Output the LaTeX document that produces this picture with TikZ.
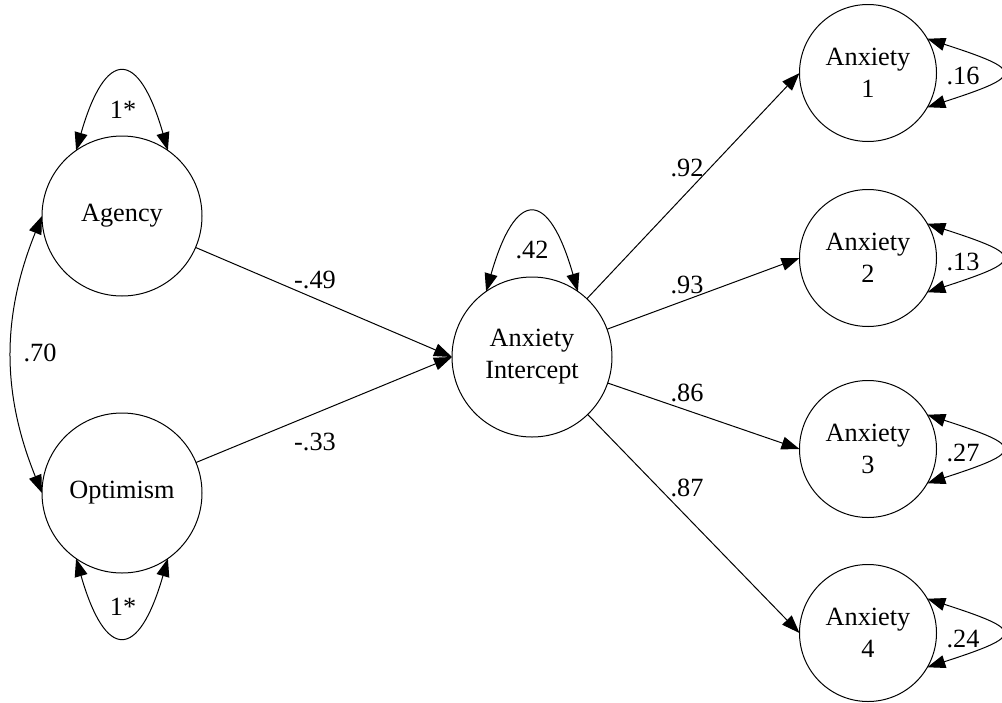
\documentclass[tikz,border=0pt]{standalone}
\usepackage{fontspec}
\setmainfont{Liberation Serif}
\usetikzlibrary{arrows.meta}
\begin{document}
\begin{tikzpicture}[x=1pt,y=1pt,
  latent/.style={circle,draw,line width=1pt,inner sep=0pt,outer sep=0pt,align=center,font=\fontsize{26.3}{32}\selectfont},
  big/.style={latent,minimum size=160pt},
  small/.style={latent,minimum size=137pt},
  lbl/.style={inner sep=0pt,font=\fontsize{26.3}{32}\selectfont},
  reg/.style={line width=1pt,-{Triangle[length=18pt,width=13pt]}},
  cov/.style={line width=1pt,{Triangle[length=18pt,width=13pt]}-{Triangle[length=18pt,width=13pt]}}
]
\fill[white] (0,0) rectangle (1002,-702);
\useasboundingbox (0,0) rectangle (1002,-702);

\node[big] (ag) at (122,-216) {Agency};
\node[big] (op) at (122,-493) {Optimism};
\node[big] (ai) at (532,-357) {Anxiety\\Intercept};
\node[small] (a1) at (868,-73) {Anxiety\\1};
\node[small] (a2) at (868,-258) {Anxiety\\2};
\node[small] (a3) at (868,-449) {Anxiety\\3};
\node[small] (a4) at (868,-633) {Anxiety\\4};

% regressions
\draw[reg] (ag) -- (ai.west);
\draw[reg] (op) -- (ai.west);
\draw[reg] (ai) -- (a1.west);
\draw[reg] (ai) -- (a2.west);
\draw[reg] (ai) -- (a3.west);
\draw[reg] (ai) -- (a4.west);

% variances
\draw[cov] (ag.125) to[out=74,in=106,looseness=2.98] (ag.55);
\draw[cov] (op.235) to[out=-74,in=-106,looseness=2.98] (op.305);
\draw[cov] (ai.125) to[out=74,in=106,looseness=3.0] (ai.55);
\draw[cov] (a1.30) to[out=-18,in=18,looseness=3.84] (a1.-30);
\draw[cov] (a2.30) to[out=-18,in=18,looseness=3.84] (a2.-30);
\draw[cov] (a3.30) to[out=-18,in=18,looseness=3.84] (a3.-30);
\draw[cov] (a4.30) to[out=-18,in=18,looseness=3.84] (a4.-30);

% covariance
\draw[cov] (ag.west) to[bend right=22] (op.west);

% labels
\node[lbl] (lag) at (123,-110) {1*};
\node[lbl] (lop) at (123,-607) {1*};
\node[lbl] (lai) at (532,-250) {.42};
\node[lbl] (lcov) at (40,-353) {.70};
\node[lbl] (lb1) at (315,-280) {-.49};
\node[lbl] (lb2) at (315,-442) {-.33};
\node[lbl] (ll1) at (687,-168) {.92};
\node[lbl] (ll2) at (687,-285) {.93};
\node[lbl] (ll3) at (687,-393) {.86};
\node[lbl] (ll4) at (687,-488) {.87};
\node[lbl] (le1) at (963,-76) {.16};
\node[lbl] (le2) at (963,-262) {.13};
\node[lbl] (le3) at (963,-453) {.27};
\node[lbl] (le4) at (963,-639) {.24};
\end{tikzpicture}
\end{document}
